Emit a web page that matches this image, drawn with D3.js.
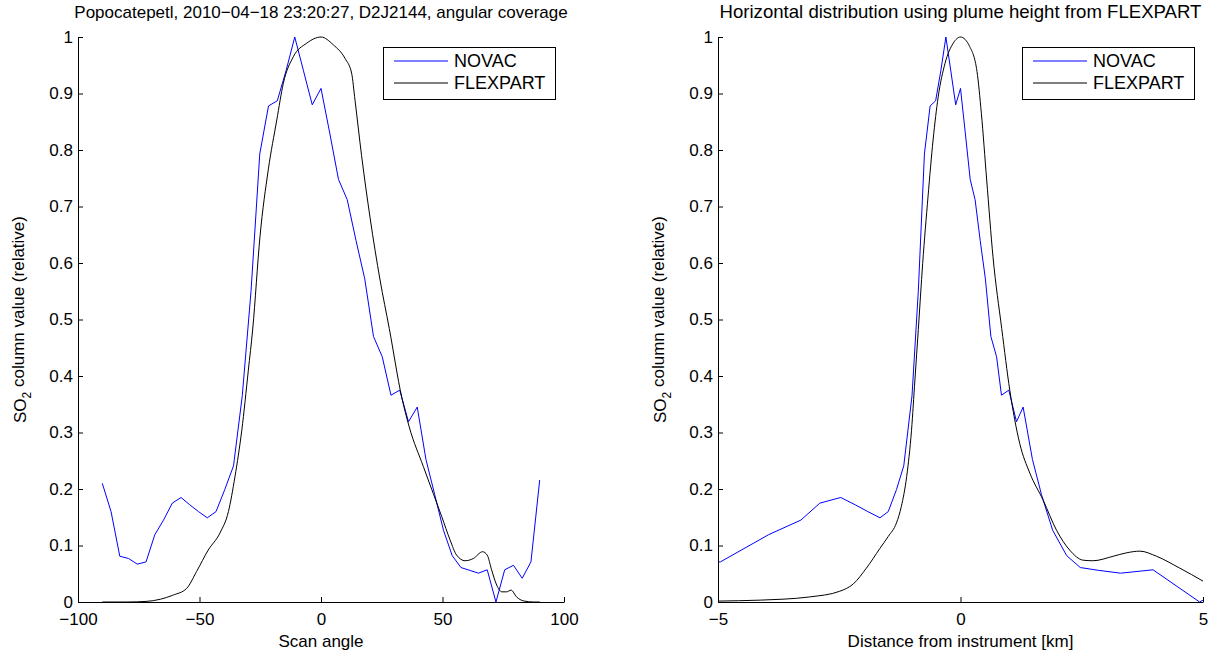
<!DOCTYPE html>
<html>
<head>
<meta charset="utf-8">
<script src="https://cdn.jsdelivr.net/npm/d3@7"></script>
<style>
  body { margin: 0; background: #fff; }
  svg text { font-family: "Liberation Sans", Arial, Helvetica, sans-serif; fill: #000; }
</style>
</head>
<body>
<svg id="plume-plot" width="1215" height="653"></svg>
<script>
// scan angles of the NOVAC instrument (deg)
const scanAngles = [
  -90, -86.4, -82.8, -79.2, -75.6, -72, -68.4, -64.8, -61.2, -57.6, -54,
  -50.4, -46.8, -43.2, -39.6, -36, -32.4, -28.8, -25.2, -21.6, -18, -14.4,
  -10.8, -7.2, -3.6, 0, 3.6, 7.2, 10.8, 14.4, 18, 21.6, 25.2, 28.8, 32.4, 36,
  39.6, 43.2, 46.8, 50.4, 54, 57.6, 61.2, 64.8, 68.4, 72, 75.6, 79.2, 82.8,
  86.4, 90,
];

// relative SO2 column measured by NOVAC, one per scan angle
const novacValues = [
  0.21, 0.16, 0.081, 0.077, 0.067, 0.071, 0.119, 0.145, 0.175, 0.185, 0.172,
  0.16, 0.149, 0.16, 0.199, 0.241, 0.365, 0.55, 0.793, 0.878, 0.887, 0.94,
  1.0, 0.94, 0.88, 0.909, 0.83, 0.748, 0.712, 0.64, 0.572, 0.47, 0.434, 0.366,
  0.375, 0.319, 0.345, 0.252, 0.19, 0.127, 0.082, 0.061, 0.056, 0.051, 0.057,
  0, 0.057, 0.065, 0.042, 0.071, 0.216,
];

// horizontal distance of each scan angle (km), ends lie at infinity
const novacDistance = [
  null, -25.1, -12.5, -8.28, -6.15, -4.95, -3.96, -3.29, -2.9, -2.47, -2.17,
  -1.91, -1.66, -1.49, -1.32, -1.17, -1.0, -0.87, -0.744, -0.626, -0.513,
  -0.406, -0.301, -0.2, -0.099, 0, 0.099, 0.2, 0.301, 0.406, 0.513, 0.626,
  0.744, 0.845, 0.996, 1.155, 1.291, 1.484, 1.67, 1.9, 2.19, 2.47, 2.85, 3.3,
  3.97, 4.93, 6.15, 8.28, 12.5, 25.1, null,
];

// FLEXPART column against scan angle
const flexAngles = [
  -90, -80, -72, -66, -61, -55.3, -51.2, -46.4, -41.6, -38.1, -35.4, -32.6,
  -29.9, -28.1, -25.1, -21.7, -18.2, -15.5, -11.4, -5.9, 0, 5.1, 9.9, 12.6,
  14, 16.7, 20.2, 24.3, 28.1, 33.2, 36.3, 42.1, 46.2, 49.7, 53.1, 55.8, 59.3,
  62.7, 66.5, 68.4, 70.2, 72.3, 74.4, 76.4, 78.2, 80.5, 83.3, 87.4, 90,
];
const flexAngleValues = [
  0, 0, 0.001, 0.005, 0.012, 0.024, 0.054, 0.092, 0.122, 0.16, 0.222, 0.304,
  0.41, 0.483, 0.647, 0.765, 0.853, 0.918, 0.965, 0.989, 1.0, 0.986, 0.962,
  0.936, 0.888, 0.79, 0.68, 0.57, 0.484, 0.363, 0.31, 0.24, 0.192, 0.151, 0.11,
  0.083, 0.073, 0.077, 0.089, 0.083, 0.057, 0.03, 0.018, 0.018, 0.021, 0.009,
  0.002, 0, 0,
];

// FLEXPART column against distance (km)
const flexDistance = [
  -5.5, -3.66, -3.11, -2.49, -2.21, -1.94, -1.66, -1.49, -1.32, -1.22, -1.11,
  -1.01, -0.94, -0.87, -0.78, -0.67, -0.565, -0.46, -0.32, -0.15, 0, 0.19, 0.34,
  0.43, 0.54, 0.67, 0.85, 1.016, 1.22, 1.43, 1.7, 1.98, 2.25, 2.53, 2.73, 3.15,
  3.42, 3.7, 4.04, 4.52, 5.0,
];
const flexDistanceValues = [
  0.001, 0.005, 0.009, 0.019, 0.032, 0.06, 0.095, 0.116, 0.14, 0.169, 0.222,
  0.304, 0.393, 0.482, 0.599, 0.717, 0.818, 0.894, 0.953, 0.989, 1.0, 0.983,
  0.939, 0.865, 0.747, 0.611, 0.484, 0.375, 0.281, 0.228, 0.181, 0.127, 0.092,
  0.074, 0.073, 0.081, 0.087, 0.09, 0.081, 0.06, 0.037,
];

// tick labels
const angleTicks = [-100, -50, 0, 50, 100];
const distanceTicks = [-5, 0, 5];
const valueTicks = [0, 0.1, 0.2, 0.3, 0.4, 0.5, 0.6, 0.7, 0.8, 0.9, 1];
const seriesNames = ["NOVAC", "FLEXPART"];
const seriesColors = ["#0000ff", "#000000"];

// set svg and shared plot size
const svg = d3.select("#plume-plot");
const plotTop = 37;
const plotBottom = 602;
const fontSize = 17;

const drawPanel = (p) => {
  const g = svg.append("g");
  const x = d3.scaleLinear().domain(p.xDomain).range([p.left, p.right]);
  const y = d3.scaleLinear().domain([0, 1]).range([plotBottom, plotTop]);

  // clip lines at the axes box
  g.append("clipPath")
    .attr("id", p.id)
    .append("rect")
    .attr("x", p.left)
    .attr("y", plotTop - 3)
    .attr("width", p.right - p.left)
    .attr("height", plotBottom - plotTop + 6);

  const line = d3
    .line()
    .defined((d) => d[0] != null)
    .x((d) => x(d[0]))
    .y((d) => y(d[1]));

  const lines = g.append("g").attr("clip-path", `url(#${p.id})`);
  lines
    .append("path")
    .attr("d", line(d3.zip(p.novacX, novacValues)))
    .style("fill", "none")
    .style("stroke", seriesColors[0])
    .style("stroke-width", 1);
  lines
    .append("path")
    .attr("d", line.curve(d3.curveMonotoneX)(d3.zip(p.flexX, p.flexY)))
    .style("fill", "none")
    .style("stroke", seriesColors[1])
    .style("stroke-width", 1);

  // axes, ticks point inward
  const xAxis = g
    .append("g")
    .attr("transform", `translate(0,${plotBottom})`)
    .call(
      d3
        .axisBottom(x)
        .tickValues(p.xTicks)
        .tickSizeInner(-5)
        .tickSizeOuter(0)
        .tickPadding(11)
        .tickFormat(d3.format(""))
    );
  const yAxis = g
    .append("g")
    .attr("transform", `translate(${p.left},0)`)
    .call(
      d3
        .axisLeft(y)
        .tickValues(valueTicks)
        .tickSizeInner(-5)
        .tickSizeOuter(0)
        .tickPadding(5)
        .tickFormat(d3.format(""))
    );
  [xAxis, yAxis].forEach((a) => {
    a.attr("font-family", null).attr("font-size", fontSize);
    a.selectAll("path, line").attr("stroke", "#000");
  });

  const cx = (p.left + p.right) / 2;

  // title and axis labels
  g.append("text")
    .attr("x", cx)
    .attr("y", 18)
    .attr("text-anchor", "middle")
    .attr("font-size", p.titleSize)
    .text(p.title);

  g.append("text")
    .attr("x", cx)
    .attr("y", 647)
    .attr("text-anchor", "middle")
    .attr("font-size", fontSize)
    .text(p.xLabel);

  const yLabel = g
    .append("text")
    .attr("transform", `translate(${p.left - 52},${(plotTop + plotBottom) / 2}) rotate(-90)`)
    .attr("text-anchor", "middle")
    .attr("font-size", fontSize);
  yLabel.append("tspan").text("SO");
  yLabel.append("tspan").attr("font-size", 12).attr("dy", "0.4em").text("2");
  yLabel.append("tspan").attr("dy", "-0.4em").text(" column value (relative)");

  // legend
  const lg = g.append("g").attr("transform", `translate(${p.right - 181},47)`);
  lg.append("rect")
    .attr("x", 0.5)
    .attr("y", 0.5)
    .attr("width", 172)
    .attr("height", 52)
    .style("fill", "#fff")
    .style("stroke", "#000");
  seriesNames.forEach((name, i) => {
    const ly = 14 + i * 22;
    lg.append("path")
      .attr("d", `M11,${ly}H65`)
      .style("fill", "none")
      .style("stroke", seriesColors[i])
      .style("stroke-width", 1.2);
    lg.append("text")
      .attr("x", 71)
      .attr("y", ly)
      .attr("dy", "0.36em")
      .attr("font-size", 18)
      .text(name);
  });
};

drawPanel({
  id: "clip-angle",
  left: 78,
  right: 564,
  xDomain: [-100, 100],
  xTicks: angleTicks,
  novacX: scanAngles,
  flexX: flexAngles,
  flexY: flexAngleValues,
  title: "Popocatepetl, 2010\u221204\u221218 23:20:27, D2J2144, angular coverage",
  titleSize: 17,
  xLabel: "Scan angle",
});

drawPanel({
  id: "clip-distance",
  left: 718,
  right: 1203,
  xDomain: [-5, 5],
  xTicks: distanceTicks,
  novacX: novacDistance,
  flexX: flexDistance,
  flexY: flexDistanceValues,
  title: "Horizontal distribution using plume height from FLEXPART",
  titleSize: 18.6,
  xLabel: "Distance from instrument [km]",
});
</script>
</body>
</html>
